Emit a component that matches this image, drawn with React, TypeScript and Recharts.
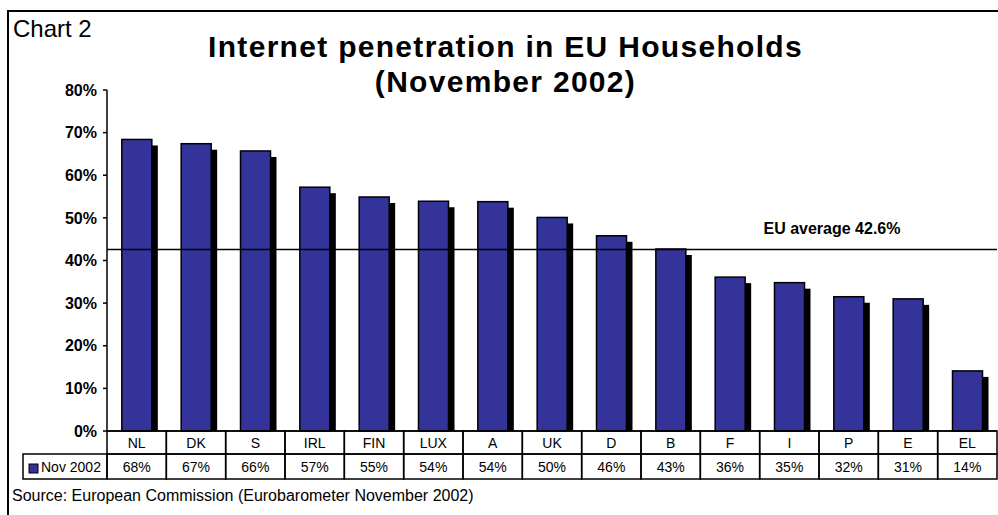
import React from "react";
import { BarChart, Bar, XAxis, YAxis, ReferenceLine } from "recharts";

const countries = ["NL", "DK", "S", "IRL", "FIN", "LUX", "A", "UK", "D", "B", "F", "I", "P", "E", "EL"];
const nov2002 = [68.4, 67.4, 65.7, 57.2, 54.9, 53.9, 53.8, 50.1, 45.8, 42.7, 36.1, 34.8, 31.5, 31.0, 14.1];
const tableLabels = ["68%", "67%", "66%", "57%", "55%", "54%", "54%", "50%", "46%", "43%", "36%", "35%", "32%", "31%", "14%"];
const yTicks = [0, 10, 20, 30, 40, 50, 60, 70, 80];
const euAverage = 42.6;
const seriesName = "Nov 2002";

const data = countries.map((c, i) => ({ country: c, value: nov2002[i], label: tableLabels[i] }));

const FONT = "'Liberation Sans', Arial, Helvetica, sans-serif";
const BAR_FILL = "#333399";

function ShadowBar(props: any) {
    const { x, y, width, height } = props;
    if (!height || height <= 0) return null;
    return (
        <g>
            <rect x={x + 6} y={y + 6} width={width} height={Math.max(0, height - 6)} fill="#000" />
            <rect x={x} y={y} width={width} height={height} fill={BAR_FILL} stroke="#000" strokeWidth={1.5} />
        </g>
    );
}

// draws the data table under the plot: category row + value row (+ legend cell for the first column)
function TableTick(props: any) {
    const { x, y, payload, index } = props;
    const cw = props.width ? props.width / countries.length : 890 / countries.length;
    const left = x - cw / 2;
    const row1 = 23;
    const row2 = 25;
    const idx = payload?.index ?? index;
    return (
        <g>
            <rect x={left} y={y} width={cw} height={row1} fill="none" stroke="#000" strokeWidth={1.5} />
            <rect x={left} y={y + row1} width={cw} height={row2} fill="none" stroke="#000" strokeWidth={1.5} />
            <text x={x} y={y + 17} textAnchor="middle" fontSize={14} fontFamily={FONT} fill="#000">
                {payload.value}
            </text>
            <text x={x} y={y + row1 + 18} textAnchor="middle" fontSize={14} fontFamily={FONT} fill="#000">
                {tableLabels[idx]}
            </text>
            {idx === 0 && (
                <g>
                    <rect x={left - 84} y={y + row1} width={84} height={row2} fill="none" stroke="#000" strokeWidth={1.5} />
                    <rect x={left - 78} y={y + row1 + 10} width={9} height={9} fill={BAR_FILL} stroke="#000" strokeWidth={1} />
                    <text x={left - 66} y={y + row1 + 18} fontSize={14} fontFamily={FONT} fill="#000">
                        {seriesName}
                    </text>
                </g>
            )}
        </g>
    );
}

function EuLabel(props: any) {
    const vb = props.viewBox || {};
    return (
        <text
            x={vb.x + vb.width - 165}
            y={vb.y - 15}
            textAnchor="middle"
            fontSize={16}
            fontWeight="bold"
            fontFamily={FONT}
            fill="#000"
        >
            {`EU average ${euAverage}%`}
        </text>
    );
}

export default function App() {
    return (
        <div
            style={{
                position: "absolute",
                left: 0,
                top: 0,
                width: 998,
                height: 515,
                background: "#fff",
                fontFamily: FONT,
                overflow: "hidden",
            }}
        >
            <div
                style={{
                    position: "absolute",
                    left: 7,
                    top: 10,
                    width: 1000,
                    height: 520,
                    borderLeft: "2.5px solid #000",
                    borderTop: "2.5px solid #000",
                }}
            />
            <div style={{ position: "absolute", left: 13, top: 17, fontSize: 24, lineHeight: "24px", color: "#000" }}>
                Chart 2
            </div>
            <div
                style={{
                    position: "absolute",
                    left: 0,
                    top: 29,
                    width: 1011,
                    textAlign: "center",
                    fontSize: 30,
                    fontWeight: "bold",
                    letterSpacing: 1.3,
                    lineHeight: "35px",
                    color: "#000",
                }}
            >
                Internet penetration in EU Households
                <br />
                (November 2002)
            </div>
            <div style={{ position: "absolute", left: 12, top: 488, fontSize: 16, lineHeight: "16px", color: "#000" }}>
                Source: European Commission (Eurobarometer November 2002)
            </div>
            <div style={{ position: "absolute", left: 0, top: 0 }}>
                <BarChart
                    width={998}
                    height={515}
                    data={data}
                    margin={{ top: 90, right: 1, left: 0, bottom: 36 }}
                    barCategoryGap="25%"
                >
                    <XAxis
                        dataKey="country"
                        height={48}
                        interval={0}
                        tickLine={false}
                        tickSize={0}
                        tickMargin={0}
                        axisLine={{ stroke: "#000", strokeWidth: 1.5 }}
                        tick={<TableTick />}
                    />
                    <YAxis
                        width={107}
                        domain={[0, 80]}
                        ticks={yTicks}
                        interval={0}
                        tickSize={4}
                        tickMargin={6}
                        tickFormatter={(v: number) => `${v}%`}
                        axisLine={{ stroke: "#000", strokeWidth: 1.5 }}
                        tickLine={{ stroke: "#000", strokeWidth: 1.5 }}
                        tick={{ fill: "#000", fontSize: 16, fontWeight: "bold", fontFamily: FONT }}
                    />
                    <Bar dataKey="value" shape={<ShadowBar />} isAnimationActive={false} />
                    <ReferenceLine
                        y={euAverage}
                        stroke="#000"
                        strokeWidth={1.5}
                        label={<EuLabel />}
                        ifOverflow="extendDomain"
                    />
                </BarChart>
            </div>
        </div>
    );
}
